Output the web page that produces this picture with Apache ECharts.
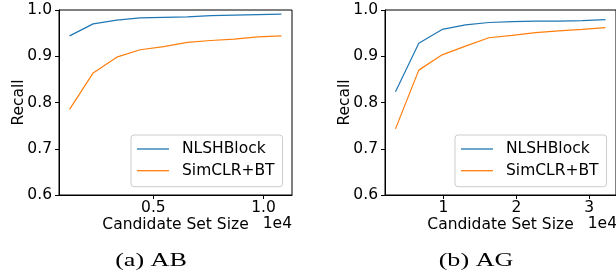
<!DOCTYPE html>
<html>
<head>
<meta charset="utf-8">
<script src="https://cdn.jsdelivr.net/npm/echarts@6/dist/echarts.min.js"></script>
<style>
html,body{margin:0;padding:0;background:#fff;}
#chart{width:616px;height:278px;}
</style>
</head>
<body>
<div id="chart"></div>
<script>
// ---- data ----
const abSizes = [1200, 2270, 3340, 4400, 5470, 6540, 7610, 8670, 9740, 10810];
const abNLSHBlock = [0.944, 0.970, 0.978, 0.983, 0.984, 0.985, 0.988, 0.989, 0.990, 0.991];
const abSimCLR = [0.785, 0.864, 0.898, 0.914, 0.921, 0.930, 0.934, 0.937, 0.942, 0.944];

const agSizes = [3400, 6600, 9810, 13010, 16220, 19420, 22620, 25830, 29030, 32240];
const agNLSHBlock = [0.823, 0.928, 0.958, 0.968, 0.973, 0.975, 0.976, 0.976, 0.977, 0.979];
const agSimCLR = [0.743, 0.870, 0.903, 0.922, 0.940, 0.945, 0.951, 0.955, 0.958, 0.962];

const abTicks = [5000, 10000];
const agTicks = [10000, 20000, 30000];
const seriesNames = ['NLSHBlock', 'SimCLR+BT'];
const captions = ['(a) AB', '(b) AG'];
const xName = 'Candidate Set Size';
const yName = 'Recall';
const offsetText = '1e4';

const BLUE = '#1f77b4', ORANGE = '#ff7f0e';
const FONT = 'DejaVu Sans';
const FS = 15.5;

const grids = [
  {left: 59, top: 10, width: 233, height: 185},
  {left: 385, top: 10, width: 233, height: 185}
];

function xAxisDef(gi, min, max, ticks, fmt) {
  return {
    type: 'value', gridIndex: gi, min: min, max: max,
    name: xName, nameLocation: 'middle', nameGap: 22, nameMoveOverlap: false,
    nameTextStyle: {fontFamily: FONT, fontSize: FS, color: '#000'},
    axisLine: {show: true, onZero: false, lineStyle: {color: '#000', width: 1}},
    axisTick: {show: true, inside: false, length: 4, customValues: ticks, lineStyle: {color: '#000'}},
    axisLabel: {show: true, customValues: ticks, margin: 5, fontFamily: FONT, fontSize: FS, color: '#000',
      formatter: fmt},
    splitLine: {show: false}
  };
}
function yAxisDef(gi, gap) {
  return {
    type: 'value', gridIndex: gi, min: 0.6, max: 1.0, interval: 0.1,
    name: yName, nameLocation: 'middle', nameGap: gap, nameRotate: 90, nameMoveOverlap: false,
    nameTextStyle: {fontFamily: FONT, fontSize: FS, color: '#000'},
    axisLine: {show: true, lineStyle: {color: '#000', width: 1}},
    axisTick: {show: true, length: 4, lineStyle: {color: '#000'}},
    axisLabel: {margin: 7, fontFamily: FONT, fontSize: FS, color: '#000',
      formatter: v => v.toFixed(1)},
    splitLine: {show: false}
  };
}
function line(name, xs, ys, gi, color) {
  return {
    type: 'line', name: name, xAxisIndex: gi, yAxisIndex: gi,
    data: xs.map((x, i) => [x, ys[i]]),
    symbol: 'none', showSymbol: false, animation: false,
    lineStyle: {color: color, width: 1.2}, itemStyle: {color: color}
  };
}
function legendDef(left, top) {
  return {
    show: true, orient: 'vertical', left: left, top: top,
    data: seriesNames, icon: 'rect', itemWidth: 32, itemHeight: 1.3, itemGap: 5.7,
    padding: [6, 8, 8, 6],
    backgroundColor: 'rgba(255,255,255,0.8)', borderColor: '#cccccc', borderWidth: 1, borderRadius: 3,
    textStyle: {fontFamily: FONT, fontSize: FS, color: '#000', padding: [0, 0, 0, 8], lineHeight: 16},
    selectedMode: false
  };
}

const chart = echarts.init(document.getElementById('chart'), null, {renderer: 'canvas'});
chart.setOption({
  animation: false,
  backgroundColor: '#fff',
  grid: grids.map(g => Object.assign({show: true, borderColor: '#000', borderWidth: 1, backgroundColor: 'transparent'}, g)),
  xAxis: [
    xAxisDef(0, 720, 11290, abTicks, v => (v / 10000).toFixed(1)),
    xAxisDef(1, 1960, 33680, agTicks, v => String(Math.round(v / 10000)))
  ],
  yAxis: [yAxisDef(0, 32), yAxisDef(1, 32)],
  legend: [legendDef(131, 135), legendDef(455, 135)],
  series: [
    line(seriesNames[0], abSizes, abNLSHBlock, 0, BLUE),
    line(seriesNames[1], abSizes, abSimCLR, 0, ORANGE),
    line(seriesNames[0], agSizes, agNLSHBlock, 1, BLUE),
    line(seriesNames[1], agSizes, agSimCLR, 1, ORANGE)
  ],
  graphic: [
    {type: 'text', x: 292, y: 224, style: {text: offsetText, font: FS + 'px "DejaVu Sans"', fill: '#000', align: 'right', verticalAlign: 'middle'}},
    {type: 'text', x: 617, y: 224, style: {text: offsetText, font: FS + 'px "DejaVu Sans"', fill: '#000', align: 'right', verticalAlign: 'middle'}},
    {type: 'text', x: 151, y: 261, scaleX: 1.45, style: {text: captions[0], font: '18px "Liberation Serif"', fill: '#000', align: 'center', verticalAlign: 'middle'}},
    {type: 'text', x: 476, y: 261, scaleX: 1.45, style: {text: captions[1], font: '18px "Liberation Serif"', fill: '#000', align: 'center', verticalAlign: 'middle'}}
  ]
});
</script>
</body>
</html>
